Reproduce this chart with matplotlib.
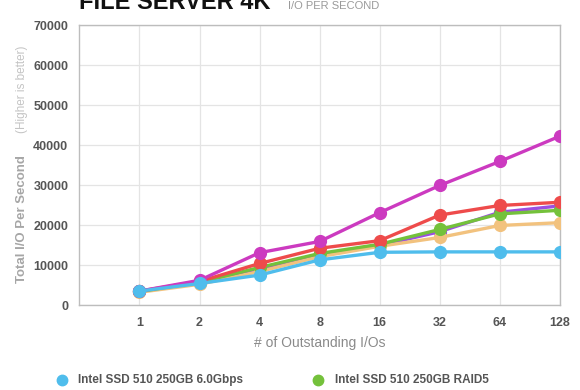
import matplotlib
matplotlib.use("Agg")
import matplotlib.pyplot as plt
from matplotlib.lines import Line2D

plt.rcParams['font.family'] = ['Liberation Sans', 'DejaVu Sans']

categories = ["1", "2", "4", "8", "16", "32", "64", "128"]
purple = [3500, 5600, 9000, 12800, 15000, 18450, 23300, 24900]
orange = [3300, 5300, 8500, 12200, 14800, 17000, 20000, 20700]
green = [3500, 5800, 9500, 13000, 15300, 19000, 22900, 23800]
red = [3600, 6000, 10500, 14300, 16200, 22600, 25000, 25800]
magenta = [3600, 6300, 13200, 16000, 23200, 30000, 36000, 42300]
blue = [3600, 5500, 7600, 11400, 13300, 13400, 13400, 13400]

label_blue = "Intel SSD 510 250GB 6.0Gbps"
label_green = "Intel SSD 510 250GB RAID5"
yticks = [0, 10000, 20000, 30000, 40000, 50000, 60000, 70000]

fig = plt.figure(figsize=(5.8, 3.9), dpi=100)
ax = fig.add_axes([0.137, 0.2167, 0.828, 0.718])

x = list(range(1, len(categories) + 1))
series = [
    (purple, "#9b4fe0"),
    (orange, "#f2c27e"),
    (green, "#74c13b"),
    (red, "#ee4b4b"),
    (magenta, "#cc3ac0"),
    (blue, "#4fbdec"),
]
for vals, c in series:
    ax.plot(x, vals, color=c, lw=2.4, marker='o', ms=8.5, mec=c, mfc=c,
            solid_capstyle='round', zorder=3)

ax.set_xlim(0, 8)
ax.set_ylim(0, 70000)
ax.set_xticks(x)
ax.set_xticklabels(categories)
ax.set_yticks(yticks)
ax.set_yticklabels([str(v) for v in yticks])
ax.tick_params(length=0, labelsize=9, colors="#555555", pad=8)
for lab in ax.get_xticklabels() + ax.get_yticklabels():
    lab.set_fontweight('bold')
ax.grid(True, color="#e4e4e4", lw=0.9, zorder=0)
for s in ax.spines.values():
    s.set_color("#bdbdbd")
    s.set_linewidth(1.0)

ax.set_xlabel("# of Outstanding I/Os", fontsize=10, color="#8a8a8a",
              labelpad=5)

fig.text(0.038, 1 - 219 / 390, "Total I/O Per Second", rotation=90, fontsize=9.5,
         fontweight='bold', color="#a6a6a6", ha='center', va='center')
fig.text(0.038, 1 - 89 / 390, "(Higher is better)", rotation=90, fontsize=8.5,
         color="#c4c4c4", ha='center', va='center')

fig.text(0.137, 1 - 9 / 390, "FILE SERVER 4K", fontsize=17, fontweight='bold',
         color="#111111", ha='left', va='baseline')
fig.text(0.497, 1 - 9 / 390, "I/O PER SECOND", fontsize=8, color="#9a9a9a",
         ha='left', va='baseline')

leg_y = 1 - 380 / 390
fig.add_artist(Line2D([62 / 580], [leg_y], marker='o', ms=7.5, color="#4fbdec",
                      ls='none', transform=fig.transFigure))
fig.text(78 / 580, leg_y, label_blue, fontsize=8.5, fontweight='bold',
         color="#555555", ha='left', va='center')
fig.add_artist(Line2D([318 / 580], [leg_y], marker='o', ms=7.5, color="#74c13b",
                      ls='none', transform=fig.transFigure))
fig.text(335 / 580, leg_y, label_green, fontsize=8.5, fontweight='bold',
         color="#555555", ha='left', va='center')

fig.savefig("out.png", dpi=100)
